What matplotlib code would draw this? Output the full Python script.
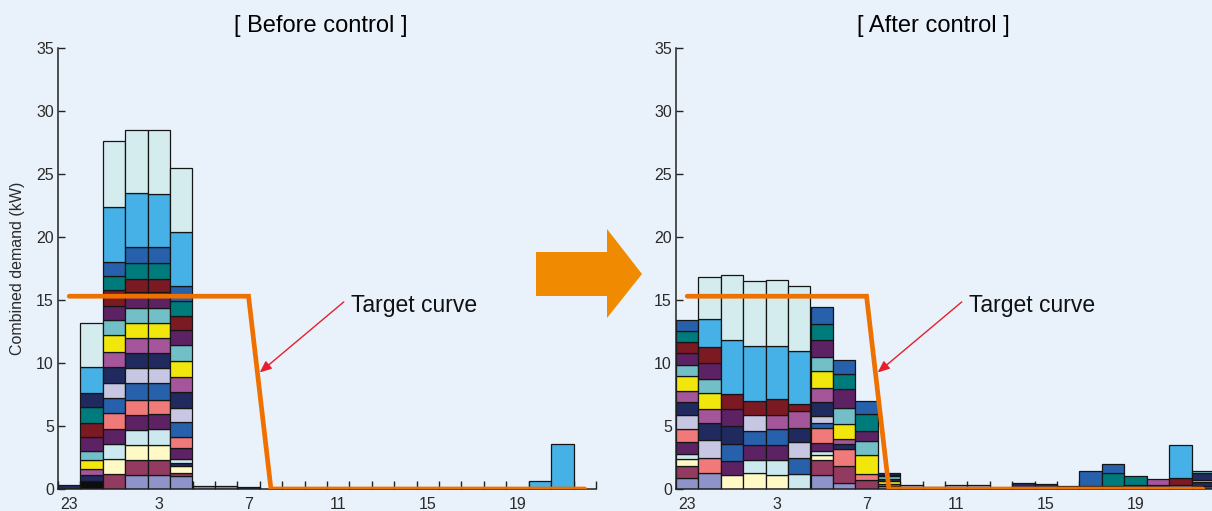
import numpy as np
import matplotlib.pyplot as plt
from matplotlib.patches import Polygon

plt.rcParams['font.family'] = ['Liberation Sans', 'DejaVu Sans']

# hours on the x axis, starting at 23:00
hours = [23] + list(range(0, 23))
tick_hours = [23, 3, 7, 11, 15, 19]

# colour key for the appliances in the stacks
palette = {
    'L': '#d5ecef', 'S': '#46b1e6', 'B': '#2760ab', 'T': '#007b7b',
    'R': '#7b1a22', 'P': '#5c2264', 'C': '#73bfc8', 'Y': '#f1e70d',
    'M': '#a5569b', 'N': '#202a5f', 'V': '#c7c7e4', 'K': '#f07a79',
    'W': '#cbe9ef', 'Q': '#fff9c6', 'G': '#923a5f', 'H': '#8e93c9',
    'X': '#0d0d0d',
}

# each bar: colour codes bottom -> top, and the cumulative top of each segment (kW)
before_codes = [
    'N',
    'XNMYCPRTNSL',
    'GQWPKBVNMYCPRTBSL',
    'HGQWPKBVNMYCPRTBSL',
    'HGQWPKBVNMYCPRTBSL',
    'HGQNWPKBVNMYCPRTBSL',
    'H', 'H', 'N',
    '', '', '', '', '', '', '', '', '', '', '', '',
    'S', 'S', '',
]
before_tops = [
    [0.3],
    [0.65, 1.1, 1.6, 2.3, 3.05, 4.15, 5.2, 6.5, 7.6, 9.7, 13.2],
    [1.2, 2.4, 3.6, 4.8, 6.05, 7.25, 8.45, 9.7, 10.9, 12.2, 13.4, 14.55, 15.8, 16.9, 18.0, 22.35, 27.6],
    [1.1, 2.3, 3.5, 4.7, 5.9, 7.1, 8.4, 9.6, 10.8, 12.0, 13.2, 14.35, 15.6, 16.7, 17.9, 19.2, 23.5, 28.5],
    [1.1, 2.3, 3.5, 4.8, 5.95, 7.1, 8.4, 9.6, 10.8, 12.0, 13.2, 14.35, 15.6, 16.7, 17.9, 19.2, 23.4, 28.5],
    [1.05, 1.3, 1.85, 2.05, 2.4, 3.25, 4.15, 5.35, 6.4, 7.7, 8.9, 10.15, 11.4, 12.6, 13.75, 14.9, 16.1, 20.4, 25.5],
    [0.2], [0.25], [0.15],
    [], [], [], [], [], [], [], [], [], [], [], [],
    [0.6], [3.6], [],
]

after_codes = [
    'HGQWPKVNMYCPRTB',
    'HKVNMYCPRSL',
    'QPBNPRSL',
    'QWPBVRSL',
    'QWPBMRSL',
    'WBVNMRSL',
    'HGQWPKBVNMYCPTB',
    'HGKNMYCPTB',
    'GKYCPTB',
    'HMYNCTN',
    'H', 'H', 'H', 'H', 'N', 'N', 'N', 'N',
    'HB', 'HTB', 'NT', 'NM', 'BRS', 'BNYNC',
]
after_tops = [
    [0.87, 1.8, 2.39, 2.81, 3.72, 4.78, 5.87, 6.91, 7.79, 8.99, 9.84, 10.77, 11.65, 12.53, 13.4],
    [1.28, 2.47, 3.86, 5.27, 6.38, 7.6, 8.72, 10.0, 11.3, 13.52, 16.84],
    [1.15, 2.21, 3.6, 5.0, 6.33, 7.52, 11.83, 16.97],
    [1.28, 2.34, 3.46, 4.6, 5.85, 7.0, 11.33, 16.49],
    [1.15, 2.34, 3.48, 4.73, 5.85, 7.12, 11.38, 16.57],
    [1.2, 2.47, 3.75, 4.87, 6.2, 6.73, 10.93, 16.12],
    [1.15, 2.34, 2.73, 3.0, 3.67, 4.87, 5.27, 5.79, 6.91, 8.01, 9.34, 10.51, 11.79, 13.12, 14.45],
    [0.48, 1.81, 3.14, 3.54, 3.94, 5.18, 6.46, 7.92, 9.12, 10.24],
    [0.74, 1.2, 2.66, 3.8, 4.6, 5.93, 6.99],
    [0.2, 0.4, 0.65, 0.8, 1.0, 1.15, 1.3],
    [0.35], [0.15], [0.3], [0.3], [0.1], [0.5], [0.4], [0.2],
    [0.2, 1.46], [0.2, 1.28, 2.0], [0.35, 1.06], [0.35, 0.82], [0.35, 0.86, 3.48],
    [0.25, 0.53, 0.75, 1.28, 1.46],
]

# target curve (hour, kW)
target_hours = [23, 7, 8, 22]
target_kw = [15.3, 15.3, 0, 0]

bg = '#e9f1fb'
orange = '#ee7100'
red = '#e5202e'


def draw_panel(ax, codes, tops, title, title_x):
    ax.set_facecolor(bg)
    x = np.arange(len(hours)) + 0.5
    for xi, cc, tt in zip(x, codes, tops):
        if not tt:
            continue
        tt = np.array(tt)
        bottoms = np.concatenate([[0], tt[:-1]])
        ax.bar([xi] * len(tt), tt - bottoms, bottom=bottoms, width=1.0,
               color=[palette[c] for c in cc], edgecolor='#151515',
               linewidth=0.9, zorder=2)

    tx = [hours.index(h) + 0.5 for h in target_hours]
    ax.plot(tx, target_kw, color=orange, lw=3.4, solid_capstyle='round',
            solid_joinstyle='miter', zorder=5)

    ax.set_xlim(0, 24)
    ax.set_ylim(0, 35)
    ax.set_xticks(np.arange(0, 25))
    ax.set_xticklabels([])
    ax.set_xticks([hours.index(h) + 0.5 for h in tick_hours], minor=True)
    ax.set_xticklabels([str(h) for h in tick_hours], minor=True, fontsize=11.5)
    ax.tick_params(axis='x', which='major', direction='in', length=6, width=1, color='#222')
    ax.tick_params(axis='x', which='minor', length=0, pad=6)
    ax.set_yticks(np.arange(0, 36, 5))
    ax.tick_params(axis='y', direction='in', length=5, width=1, color='#222',
                   labelsize=11.5, pad=3, labelcolor='#2a2a2a')
    ax.tick_params(axis='x', which='both', labelcolor='#2a2a2a')
    for s in ['top', 'right']:
        ax.spines[s].set_visible(False)
    for s in ['left', 'bottom']:
        ax.spines[s].set_linewidth(1.1)
        ax.spines[s].set_color('#222')
    ax.set_title(title, fontsize=17, x=title_x, pad=11.5)

    # target curve label with red pointer
    ax.annotate('', xy=(9.0, 9.25), xytext=(12.75, 14.85),
                arrowprops=dict(arrowstyle='-|>,head_length=0.7,head_width=0.3',
                                color=red, lw=1.0, shrinkA=0, shrinkB=0),
                zorder=6)
    ax.text(13.05, 14.6, 'Target curve', fontsize=16.5, ha='left', va='center',
            color='#111', zorder=6)


fig = plt.figure(figsize=(12.12, 5.11), dpi=100, facecolor=bg)
ax1 = fig.add_axes([58 / 1212, 22 / 511, 538 / 1212, 441 / 511])
ax2 = fig.add_axes([676 / 1212, 22 / 511, 538 / 1212, 441 / 511])

draw_panel(ax1, before_codes, before_tops, '[ Before control ]', 0.489)
draw_panel(ax2, after_codes, after_tops, '[ After control ]', 0.478)
ax1.set_ylabel('Combined demand (kW)', fontsize=11.5, color='#2a2a2a', labelpad=8)

# big orange arrow between the panels (figure pixels)
arrow_px = [(536, 252), (607, 252), (607, 229), (642, 274),
            (607, 318), (607, 296), (536, 296)]
arrow_pts = [(px / 1212, 1 - py / 511) for px, py in arrow_px]
fig.patches.append(Polygon(arrow_pts, closed=True, transform=fig.transFigure,
                           facecolor='#f08a00', edgecolor='none'))

fig.savefig('out.png', dpi=100, facecolor=bg)
